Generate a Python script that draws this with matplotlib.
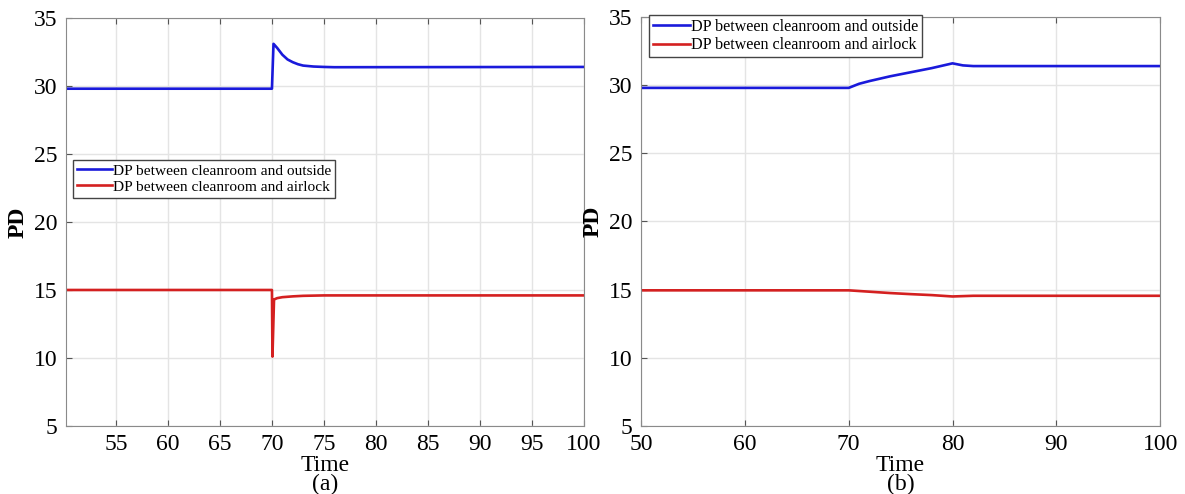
import matplotlib.pyplot as plt
import numpy as np

plt.rcParams['font.family'] = ['Liberation Serif', 'DejaVu Serif']

# panel (a)
a_blue_t = [50.2, 70.0, 70.15, 70.5, 71.0, 71.5, 72.0, 72.5, 73.0, 74.0, 75.0, 76.0, 100.0]
a_blue_v = [29.8, 29.8, 33.1, 32.8, 32.3, 31.95, 31.75, 31.6, 31.5, 31.43, 31.4, 31.38, 31.4]
a_red_t = [50.2, 70.0, 70.05, 70.2, 70.5, 71.0, 72.0, 73.0, 75.0, 100.0]
a_red_v = [15.0, 15.0, 10.1, 14.3, 14.4, 14.47, 14.53, 14.57, 14.6, 14.6]

# panel (b)
b_blue_t = [50, 70, 71, 72, 74, 76, 78, 80, 81, 82, 100]
b_blue_v = [29.8, 29.8, 30.1, 30.3, 30.65, 30.95, 31.25, 31.6, 31.45, 31.4, 31.4]
b_red_t = [50, 70, 72, 74, 76, 78, 80, 82, 100]
b_red_v = [14.95, 14.95, 14.85, 14.75, 14.67, 14.6, 14.5, 14.55, 14.55]

labels = ['DP between cleanroom and outside', 'DP between cleanroom and airlock']

fig = plt.figure(figsize=(11.85, 4.94), dpi=100)
ax1 = fig.add_axes([0.0557, 0.1377, 0.4371, 0.8259])
ax2 = fig.add_axes([0.541, 0.1377, 0.438, 0.8279])

def style(ax, xticks, xlim, sub):
    ax.set_xlim(*xlim)
    ax.set_ylim(5, 35)
    ax.set_xticks(xticks)
    ax.set_yticks([5, 10, 15, 20, 25, 30, 35])
    ax.grid(True, color='#e4e4e4', linewidth=1)
    ax.set_axisbelow(True)
    for s in ax.spines.values():
        s.set_color('#8a8a8a')
    ax.tick_params(direction='in', top=True, right=False, labelsize=17,
                   color='#555555', length=4, pad=6)
    ax.set_ylabel('PD', fontsize=17, fontweight='bold', labelpad=4)
    ax.set_xlabel('Time\n' + sub, fontsize=17, labelpad=0, linespacing=0.85)

def legend(ax, anchor, size):
    ax.legend(loc='upper left', bbox_to_anchor=anchor, fontsize=size,
              frameon=True, fancybox=False, edgecolor='#444444', borderpad=0.25,
              handlelength=2.3, handletextpad=0.05, labelspacing=0.15,
              borderaxespad=0, framealpha=1)

ax1.plot(a_blue_t, a_blue_v, color='#1a1adb', linewidth=1.9, label=labels[0])
ax1.plot(a_red_t, a_red_v, color='#d42020', linewidth=1.9, label=labels[1])
style(ax1, [55, 60, 65, 70, 75, 80, 85, 90, 95, 100], (50.2, 100), '(a)')
legend(ax1, (0.013, 0.652), 11.1)

ax2.plot(b_blue_t, b_blue_v, color='#1a1adb', linewidth=1.9, label=labels[0])
ax2.plot(b_red_t, b_red_v, color='#d42020', linewidth=1.9, label=labels[1])
style(ax2, [50, 60, 70, 80, 90, 100], (50, 100), '(b)')
legend(ax2, (0.015, 1.005), 11.6)

fig.savefig('out.png', dpi=100)
